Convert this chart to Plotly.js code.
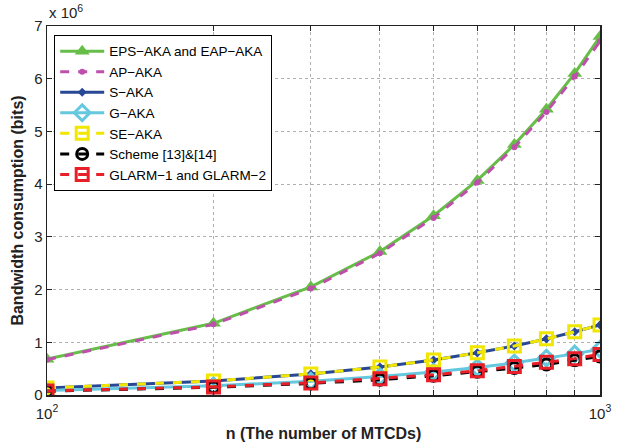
<!DOCTYPE html>
<html>
<head>
<meta charset="utf-8">
<script src="https://cdn.plot.ly/plotly-3.0.1.min.js"></script>
<style>html,body{margin:0;padding:0;background:#fff}#chart{width:621px;height:447px}</style>
</head>
<body>
<div id="chart"></div>
<script>
const n = [100, 200, 300, 400, 500, 600, 700, 800, 900, 1000];
const epsAka = [0.68e6, 1.36e6, 2.05e6, 2.72e6, 3.40e6, 4.07e6, 4.75e6, 5.42e6, 6.10e6, 6.80e6];
const apAka  = [0.67e6, 1.34e6, 2.02e6, 2.69e6, 3.36e6, 4.03e6, 4.70e6, 5.37e6, 6.04e6, 6.71e6];
const sAka   = [0.133e6, 0.266e6, 0.40e6, 0.53e6, 0.665e6, 0.80e6, 0.93e6, 1.065e6, 1.20e6, 1.33e6];
const gAka   = [0.087e6, 0.174e6, 0.26e6, 0.35e6, 0.435e6, 0.52e6, 0.61e6, 0.70e6, 0.78e6, 0.87e6];
const seAka  = [0.133e6, 0.266e6, 0.40e6, 0.53e6, 0.665e6, 0.80e6, 0.93e6, 1.065e6, 1.20e6, 1.33e6];
const scheme = [0.073e6, 0.146e6, 0.22e6, 0.29e6, 0.365e6, 0.44e6, 0.51e6, 0.58e6, 0.66e6, 0.73e6];
const glarm  = [0.077e6, 0.154e6, 0.23e6, 0.31e6, 0.385e6, 0.46e6, 0.54e6, 0.62e6, 0.69e6, 0.77e6];
const names = ["EPS\u2212AKA and EAP\u2212AKA", "AP\u2212AKA", "S\u2212AKA", "G\u2212AKA", "SE\u2212AKA", "Scheme [13]&[14]", "GLARM\u22121 and GLARM\u22122"];
const xTickVals = [100, 200, 300, 400, 500, 600, 700, 800, 900, 1000];
const xTickText = ["10<sup>2</sup>", "", "", "", "", "", "", "", "", "10<sup>3</sup>"];
const yTickVals = [0, 1e6, 2e6, 3e6, 4e6, 5e6, 6e6, 7e6];
const yTickText = ["0", "1", "2", "3", "4", "5", "6", "7"];

const traces = [
  {y: epsAka, name: names[0], line: {color: 'rgb(102,190,72)', width: 3, dash: 'solid'},
   marker: {symbol: 'triangle-up', size: 13, color: 'rgb(102,190,72)'}},
  {y: apAka, name: names[1], line: {color: 'rgb(190,80,172)', width: 3, dash: 'dash'},
   marker: {symbol: 'circle', size: 6, color: 'rgb(190,80,172)'}},
  {y: sAka, name: names[2], line: {color: 'rgb(40,72,150)', width: 3, dash: 'solid'},
   marker: {symbol: 'diamond', size: 7, color: 'rgb(40,72,150)'}},
  {y: gAka, name: names[3], line: {color: 'rgb(100,200,222)', width: 3, dash: 'solid'},
   marker: {symbol: 'diamond-open', size: 12, color: 'rgb(100,200,222)', line: {width: 3, color: 'rgb(100,200,222)'}}},
  {y: seAka, name: names[4], line: {color: 'rgb(240,230,0)', width: 3, dash: 'dash'},
   marker: {symbol: 'square-open', size: 12, color: 'rgb(240,230,0)', line: {width: 3, color: 'rgb(240,230,0)'}}},
  {y: scheme, name: names[5], line: {color: 'rgb(0,0,0)', width: 3, dash: 'dash'},
   marker: {symbol: 'circle-open', size: 11, color: 'rgb(0,0,0)', line: {width: 3, color: 'rgb(0,0,0)'}}},
  {y: glarm, name: names[6], line: {color: 'rgb(232,30,40)', width: 3, dash: 'dash'},
   marker: {symbol: 'square-open', size: 12, color: 'rgb(232,30,40)', line: {width: 3, color: 'rgb(232,30,40)'}}}
].map(t => Object.assign({x: n, type: 'scatter', mode: 'lines+markers'}, t));

const fam = 'Liberation Sans, Arial, sans-serif';
const layout = {
  width: 621, height: 447,
  margin: {l: 47, r: 21, t: 26, b: 52},
  paper_bgcolor: '#fff', plot_bgcolor: '#fff',
  font: {family: fam, size: 14, color: '#222'},
  showlegend: true,
  legend: {x: 0.013, y: 0.976, xanchor: 'left', yanchor: 'top', bgcolor: '#fff',
           bordercolor: '#000', borderwidth: 1, font: {family: fam, size: 13.5, color: '#000'},
           itemwidth: 44, tracegroupgap: 0},
  xaxis: {type: 'log', range: [2, 3], tickvals: xTickVals, ticktext: xTickText,
          ticks: 'inside', ticklen: 5, tickcolor: '#222', showline: true, linecolor: '#222', linewidth: 1.5,
          mirror: 'ticks', showgrid: true, gridcolor: '#b0b0b0', griddash: 'dot', gridwidth: 1, zeroline: false,
          ticklabelstandoff: 4,
          tickfont: {family: fam, size: 15, color: '#222'},
          title: {text: '<b>n (The number of MTCDs)</b>', font: {family: fam, size: 16, color: '#222'}, standoff: 7}},
  yaxis: {range: [0, 7e6], tickvals: yTickVals, ticktext: yTickText,
          ticks: 'inside', ticklen: 5, tickcolor: '#222', showline: true, linecolor: '#222', linewidth: 1.5,
          mirror: 'ticks', showgrid: true, gridcolor: '#b0b0b0', griddash: 'dot', gridwidth: 1, zeroline: false,
          tickfont: {family: fam, size: 15, color: '#222'},
          title: {text: '<b>Bandwidth consumption (bits)</b>', font: {family: fam, size: 16, color: '#222'}, standoff: 6}},
  annotations: [{xref: 'paper', yref: 'paper', x: 0, y: 1, xanchor: 'left', yanchor: 'bottom', yshift: 3,
                 text: 'x 10<sup>6</sup>', showarrow: false, font: {family: fam, size: 15, color: '#222'}}]
};
Plotly.newPlot('chart', traces, layout, {displayModeBar: false, staticPlot: true});
</script>
</body>
</html>
